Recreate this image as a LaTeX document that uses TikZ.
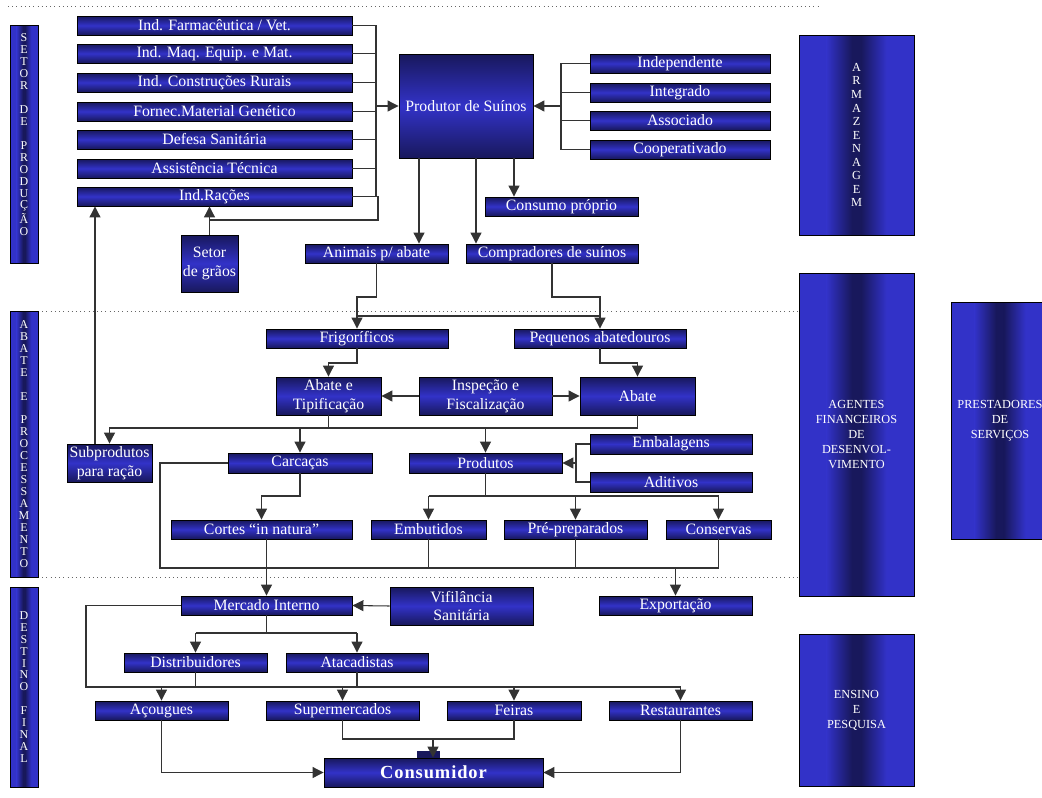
\documentclass[tikz,border=0pt]{standalone}
\usepackage{fontspec}
\setmainfont{Liberation Serif}
\usetikzlibrary{arrows.meta,calc}
\definecolor{azul}{RGB}{50,50,200}
\definecolor{azulesc}{RGB}{24,24,92}
\def\bloco[#1](#2)(#3,#4)(#5,#6)#7{\node[#1, minimum width={(#5-#3)*0.02cm}, minimum height={(#6-#4)*0.02cm}] (#2) at ({(#3+#5)/2},{(#4+#6)/2}) {#7};}
\tikzset{
	caixa/.style={draw=black, line width=0.5pt, inner sep=0pt, text=white, align=center, font=\fontsize{9}{10.8}\selectfont, top color=azulesc, bottom color=azulesc, middle color=azul},
	coluna/.style={draw=black, line width=0.5pt, inner sep=0pt, text=white, align=center, fill=azul, path picture={
		\path (path picture bounding box.south west) coordinate (pa) (path picture bounding box.north east) coordinate (pb);
		\shade[left color=azul, right color=azulesc] ($(pa)!0.24!(pa -| pb)$) rectangle ($(pb -| pa)!0.46!(pb)$);
		\fill[azulesc] ($(pa)!0.46!(pa -| pb)$) rectangle ($(pb -| pa)!0.54!(pb)$);
		\shade[left color=azulesc, right color=azul] ($(pa)!0.54!(pa -| pb)$) rectangle ($(pb -| pa)!0.76!(pb)$);
	}},
	letras/.style={font=\fontsize{6.8}{6.8}\selectfont},
	linha/.style={draw=black!80, line width=0.6pt},
	seta/.style={linha, -{Triangle[length=2.2mm,width=2.2mm]}},
	pontilhado/.style={draw=black!60, line width=0.4pt, dotted}
}

\begin{document}
\begin{tikzpicture}[x=0.02cm, y=-0.02cm]
			%%%%% START %%%%%
			\useasboundingbox (0,0) rectangle (1042,798);
			
			\draw[pontilhado] (8,6) -- (818,6);
			\draw[pontilhado] (38,311) -- (799,311);
			\draw[pontilhado] (38,577) -- (799,577);
			
			% faixas laterais
			\bloco[coluna, letras](setor)(10,25)(38,263){S\\E\\T\\O\\R\\[6.8pt]D\\E\\[6.8pt]P\\R\\O\\D\\U\\Ç\\Ã\\O\\[4pt]\mbox{}}
			\bloco[coluna, letras](abateproc)(10,311)(38,577){A\\B\\A\\T\\E\\[6.8pt]E\\[6.8pt]P\\R\\O\\C\\E\\S\\S\\A\\M\\E\\N\\T\\O}
			\bloco[coluna, letras](destino)(10,587)(38,787){D\\E\\S\\T\\I\\N\\O\\[6.8pt]F\\I\\N\\A\\L}
			
			\bloco[coluna, font=\fontsize{7}{7.7}\selectfont](armaz)(799,35)(914,235){A\\R\\M\\A\\Z\\E\\N\\A\\G\\E\\M}
			\bloco[coluna, font=\fontsize{7}{8.5}\selectfont](agentes)(799,273)(914,596){AGENTES\\FINANCEIROS\\DE\\DESENVOL-\\VIMENTO}
			\bloco[coluna, font=\fontsize{7}{8.5}\selectfont](prest)(951,302)(1049,539){PRESTADORES\\DE\\SERVIÇOS}
			\bloco[coluna, font=\fontsize{7}{8.5}\selectfont](ensino)(799,634)(914,786){ENSINO\\E\\PESQUISA}
			
			% setor de producao
			\bloco[caixa](farma)(77,16)(352,35){Ind. Farmacêutica / Vet.}
			\bloco[caixa](maq)(77,44)(352,63){Ind. Maq. Equip. e Mat.}
			\bloco[caixa](constr)(77,73)(352,92){Ind. Construções Rurais}
			\bloco[caixa](genet)(77,102)(352,121){Fornec.Material Genético}
			\bloco[caixa](defesa)(77,130)(352,149){Defesa Sanitária}
			\bloco[caixa](assist)(77,159)(352,178){Assistência Técnica}
			\bloco[caixa](racoes)(77,187)(352,206){Ind.Rações}
			\bloco[caixa](graos)(181,235)(238,292){Setor\\de grãos}
			
			\bloco[caixa](produtor)(399,54)(533,158){Produtor de Suínos}
			\bloco[caixa](indep)(590,54)(770,73){Independente}
			\bloco[caixa](integ)(590,83)(770,102){Integrado}
			\bloco[caixa](assoc)(590,111)(770,130){Associado}
			\bloco[caixa](coop)(590,140)(770,159){Cooperativado}
			\bloco[caixa](consumo)(485,197)(638,216){Consumo próprio}
			\bloco[caixa](animais)(305,244)(448,263){Animais p/ abate}
			\bloco[caixa](compr)(466,244)(638,263){Compradores de suínos}
			
			\coordinate (busP) at (376,106);
			\coordinate (busD) at (561,106);
			\foreach \n in {farma,maq,constr,genet,defesa,assist,racoes}
				\draw[linha] (\n.east) -| (busP);
			\draw[seta] (busP) -- (produtor.west);
			\foreach \n in {indep,integ,assoc,coop}
				\draw[linha] (\n.west) -| (busD);
			\draw[seta] (busD) -- (produtor.east);
			
			\coordinate (g1) at (209.5,220);
			\coordinate (g2) at (378,220);
			\draw[seta] (graos.north) -- (graos.north |- racoes.south);
			\draw[linha] (g1) -- (g2) |- (racoes.east);
			
			\coordinate (xa) at (419,0);
			\coordinate (xb) at (476,0);
			\coordinate (xc) at (514,0);
			\draw[seta] (xa |- produtor.south) -- (xa |- animais.north);
			\draw[seta] (xb |- produtor.south) -- (xb |- compr.north);
			\draw[seta] (xc |- produtor.south) -- (xc |- consumo.north);
			
			% abate e processamento
			\bloco[caixa](frigo)(266,329)(448,348){Frigoríficos}
			\bloco[caixa](pequenos)(514,329)(686,348){Pequenos abatedouros}
			\bloco[caixa](tipif)(276,377)(381,415){Abate e\\Tipificação}
			\bloco[caixa](inspec)(419,377)(552,415){Inspeção e\\Fiscalização}
			\bloco[caixa](abate)(580,377)(695,415){Abate}
			\bloco[caixa](subprod)(67,444)(152,482){Subprodutos\\para ração}
			\bloco[caixa](carcacas)(228,453)(372,473){Carcaças}
			\bloco[caixa](produtos)(409,453)(562,473){Produtos}
			\bloco[caixa](embal)(590,434)(752,454){Embalagens}
			\bloco[caixa](aditivos)(590,472)(752,492){Aditivos}
			\bloco[caixa](cortes)(171,520)(352,539){Cortes “in natura”}
			\bloco[caixa](embut)(371,520)(486,539){Embutidos}
			\bloco[caixa](prepar)(504,520)(647,539){Pré-preparados}
			\bloco[caixa](conserv)(666,520)(771,539){Conservas}
			
			\coordinate (ya) at (0,297);
			\coordinate (yb) at (0,316);
			\coordinate (yc) at (0,363);
			\coordinate (yd) at (0,428);
			\coordinate (ye) at (0,496);
			\coordinate (yf) at (0,568);
			\coordinate (xs) at (95,0);
			\coordinate (xe) at (160,0);
			\coordinate (busE) at (576,463);
			
			\draw[seta] (animais.south) -- (animais.south |- ya) -| (frigo.north);
			\draw[seta] (compr.south) -- (compr.south |- ya) -| (pequenos.north);
			\draw[linha] (frigo.north |- yb) -- (pequenos.north |- yb);
			\draw[seta] (frigo.south) -- (frigo.south |- yc) -| (tipif.north);
			\draw[seta] (pequenos.south) -- (pequenos.south |- yc) -| (abate.north);
			\draw[seta] (inspec.west) -- (tipif.east);
			\draw[seta] (inspec.east) -- (abate.west);
			
			\draw[seta] (tipif.south) -- (tipif.south |- yd) -| (subprod.north);
			\draw[seta] (xs |- subprod.north) -- (xs |- racoes.south);
			\draw[linha] (abate.south) |- (carcacas.north |- yd);
			\draw[seta] (carcacas.north |- yd) -- (carcacas.north);
			\draw[seta] (produtos.north |- yd) -- (produtos.north);
			
			\draw[linha] (embal.west) -| (busE);
			\draw[linha] (aditivos.west) -| (busE);
			\draw[seta] (busE) -- (produtos.east);
			
			\draw[seta] (carcacas.south) -- (carcacas.south |- ye) -| (cortes.north);
			\draw[linha] (produtos.south) -- (produtos.south |- ye);
			\draw[linha] (embut.north |- ye) -- (conserv.north |- ye);
			\foreach \n in {embut,prepar,conserv}
				\draw[seta] (\n.north |- ye) -- (\n.north);
			
			\draw[linha] (carcacas.west) -| (xe |- yf) -- (conserv.south |- yf);
			\foreach \n in {embut,prepar,conserv}
				\draw[linha] (\n.south) -- (\n.south |- yf);
			
			% destino final
			\bloco[caixa](mercado)(181,596)(352,615){Mercado Interno}
			\bloco[caixa](vigil)(390,587)(533,625){Vifilância\\Sanitária}
			\bloco[caixa](export)(599,596)(752,615){Exportação}
			\bloco[caixa](distrib)(124,653)(267,672){Distribuidores}
			\bloco[caixa](atac)(286,653)(428,672){Atacadistas}
			\bloco[caixa](acoug)(95,701)(228,720){Açougues}
			\bloco[caixa](superm)(266,701)(419,720){Supermercados}
			\bloco[caixa](feiras)(447,701)(581,720){Feiras}
			\bloco[caixa](rest)(609,701)(752,720){Restaurantes}
			\fill[azulesc] (417,751) rectangle (440,758);
			\bloco[caixa, font=\fontsize{10.5}{12}\selectfont\bfseries\addfontfeatures{LetterSpace=5}](consum)(324,758)(543,787){Consumidor}
			
			\coordinate (yg) at (0,633);
			\coordinate (yh) at (0,687);
			\coordinate (yi) at (0,739);
			\coordinate (xh) at (86,0);
			\coordinate (xt) at (433,0);
			
			\draw[seta] (mercado.north |- cortes.south) -- (mercado.north);
			\draw[seta] (export.north |- yf) -- (export.north);
			\draw[seta] (vigil.west) -- (mercado.east);
			
			\draw[linha] (mercado.south) -- (mercado.south |- yg);
			\draw[linha] (distrib.north |- yg) -- (atac.north |- yg);
			\draw[seta] (distrib.north |- yg) -- (distrib.north);
			\draw[seta] (atac.north |- yg) -- (atac.north);
			
			\draw[linha] (mercado.west) -| (xh |- yh) -- (rest.north |- yh);
			\draw[linha] (distrib.south) -- (distrib.south |- yh);
			\draw[linha] (atac.south) -- (atac.south |- yh);
			\foreach \n in {acoug,superm,feiras,rest}
				\draw[seta] (\n.north |- yh) -- (\n.north);
			
			\draw[linha] (superm.south) |- (feiras.south |- yi) -- (feiras.south);
			\draw[seta] (xt |- yi) -- (xt |- consum.north);
			\draw[seta] (acoug.south) |- (consum.west);
			\draw[seta] (rest.south) |- (consum.east);
			
			%%%%% END %%%%%
\end{tikzpicture}
\end{document}
